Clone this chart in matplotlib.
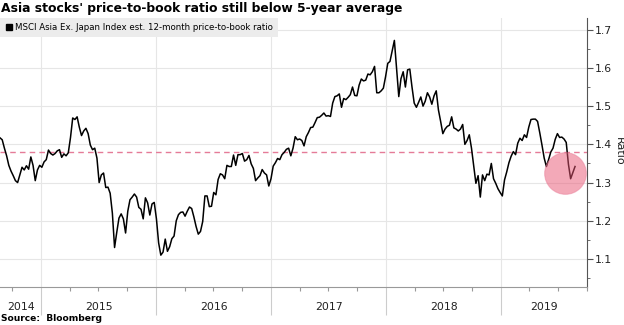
import matplotlib
matplotlib.use("Agg")
import matplotlib.pyplot as plt
import matplotlib.dates as mdates
from matplotlib.lines import Line2D
import pandas as pd

# weekly 12-month forward price-to-book ratio, MSCI Asia ex-Japan
start = "2014-08-23"
ratio = [
    1.417, 1.412, 1.390, 1.370, 1.345, 1.330, 1.318, 1.305, 1.300, 1.320,
    1.340, 1.333, 1.344, 1.335, 1.367, 1.345, 1.305, 1.333, 1.345, 1.340,
    1.354, 1.360, 1.385, 1.376, 1.372, 1.376, 1.383, 1.386, 1.366, 1.375,
    1.370, 1.378, 1.418, 1.469, 1.465, 1.472, 1.445, 1.423, 1.435, 1.442,
    1.428, 1.398, 1.386, 1.390, 1.364, 1.300, 1.320, 1.325, 1.287, 1.288,
    1.272, 1.220, 1.130, 1.170, 1.207, 1.218, 1.205, 1.168, 1.225, 1.255,
    1.262, 1.270, 1.262, 1.235, 1.230, 1.205, 1.260, 1.247, 1.215, 1.244,
    1.248, 1.205, 1.142, 1.110, 1.118, 1.152, 1.120, 1.132, 1.153, 1.160,
    1.200, 1.216, 1.222, 1.223, 1.212, 1.225, 1.236, 1.232, 1.210, 1.185,
    1.165, 1.172, 1.198, 1.265, 1.265, 1.237, 1.238, 1.274, 1.268, 1.308,
    1.323, 1.320, 1.310, 1.345, 1.342, 1.342, 1.372, 1.345, 1.373, 1.373,
    1.376, 1.356, 1.360, 1.371, 1.349, 1.337, 1.305, 1.312, 1.318, 1.334,
    1.325, 1.320, 1.291, 1.310, 1.343, 1.352, 1.363, 1.360, 1.373, 1.379,
    1.387, 1.390, 1.370, 1.390, 1.420, 1.412, 1.414, 1.410, 1.396, 1.420,
    1.431, 1.444, 1.445, 1.457, 1.470, 1.471, 1.476, 1.482, 1.474, 1.475,
    1.473, 1.508, 1.525, 1.527, 1.532, 1.497, 1.520, 1.517, 1.523, 1.530,
    1.550, 1.528, 1.527, 1.555, 1.571, 1.566, 1.568, 1.584, 1.582, 1.590,
    1.604, 1.535, 1.535, 1.540, 1.547, 1.577, 1.612, 1.617, 1.645, 1.672,
    1.600, 1.525, 1.572, 1.590, 1.550, 1.595, 1.597, 1.550, 1.508, 1.497,
    1.510, 1.524, 1.500, 1.513, 1.535, 1.524, 1.505, 1.527, 1.540, 1.490,
    1.460, 1.428, 1.440, 1.447, 1.450, 1.472, 1.443, 1.440, 1.435, 1.440,
    1.452, 1.400, 1.410, 1.425, 1.390, 1.345, 1.298, 1.318, 1.262, 1.320,
    1.305, 1.322, 1.320, 1.350, 1.310, 1.298, 1.284, 1.274, 1.265, 1.307,
    1.328, 1.352, 1.369, 1.381, 1.373, 1.403, 1.416, 1.410, 1.425, 1.418,
    1.445, 1.465, 1.466, 1.466, 1.460, 1.430, 1.398, 1.364, 1.342, 1.360,
    1.380, 1.390, 1.413, 1.428, 1.418, 1.419, 1.414, 1.405, 1.348, 1.310,
    1.326, 1.342,
]
avg_5y = 1.38
years = [2014, 2015, 2016, 2017, 2018, 2019]
highlight_date = "2019-07-24"
highlight_value = 1.325

dates = pd.date_range(start, periods=len(ratio), freq="7D")
x_left = pd.Timestamp(start)
x_right = pd.Timestamp("2019-10-01")

fig = plt.figure(figsize=(6.24, 3.25), dpi=100)
ax = fig.add_axes([0.0, 0.117, 0.9407, 0.828])

ax.plot(dates, ratio, color="black", lw=1.1, zorder=3)
ax.axhline(avg_5y, color="#e57b98", lw=1, dashes=(4, 3), zorder=2)
ax.scatter([pd.Timestamp(highlight_date)], [highlight_value], s=900,
           color="#e95573", alpha=0.5, edgecolor="#e9809a", lw=0.8, zorder=4)

ax.set_xlim(x_left, x_right)
ax.set_ylim(1.0267, 1.731)

# right-hand ratio axis
ax.yaxis.tick_right()
ax.set_yticks([1.1, 1.2, 1.3, 1.4, 1.5, 1.6, 1.7])
ax.set_yticks([1.05, 1.15, 1.25, 1.35, 1.45, 1.55, 1.65], minor=True)
ax.tick_params(axis="y", which="major", length=4, color="#555555",
               labelsize=7.8, labelcolor="#222222", pad=1.5)
ax.tick_params(axis="y", which="minor", length=2, color="#555555")
fig.text(0.991, 0.535, "Ratio", rotation=270, ha="center", va="center",
         fontsize=8, color="#222222")

# years on the bottom: long separators, quarterly small ticks
ax.xaxis.set_major_locator(mdates.YearLocator())
ax.xaxis.set_minor_locator(mdates.MonthLocator(bymonth=[4, 7, 10]))
ax.xaxis.set_major_formatter(plt.NullFormatter())
ax.tick_params(axis="x", which="major", length=20, color="#cccccc", width=0.8)
ax.tick_params(axis="x", which="minor", length=3, color="#999999", width=0.8)
for y in years:
    lo = max(pd.Timestamp(f"{y}-01-01"), x_left)
    hi = min(pd.Timestamp(f"{y + 1}-01-01"), x_right)
    mid = lo + (hi - lo) / 2
    ax.text(mid, -0.075, str(y), transform=ax.get_xaxis_transform(),
            ha="center", va="center", fontsize=7.8, color="#222222")

ax.grid(True, which="major", color="#e6e6e6", lw=0.8, zorder=0)
ax.set_axisbelow(True)

for side in ["left", "top"]:
    ax.spines[side].set_visible(False)
ax.spines["right"].set_color("#555555")
ax.spines["bottom"].set_color("#999999")

handle = Line2D([], [], marker="s", ls="none", color="black", markersize=4.5)
leg = ax.legend([handle], ["MSCI Asia Ex. Japan Index est. 12-month price-to-book ratio"],
                loc="upper left", bbox_to_anchor=(0, 1), borderaxespad=0,
                fontsize=6.2, frameon=True, fancybox=False, handlelength=0.8,
                handletextpad=0.3, borderpad=0.6)
leg.get_frame().set_facecolor("#ececec")
leg.get_frame().set_edgecolor("none")
leg.get_frame().set_alpha(1)

fig.text(0.002, 0.995, "Asia stocks' price-to-book ratio still below 5-year average",
         ha="left", va="top", fontsize=8.9, fontweight="bold")
fig.text(0.002, 0.005, "Source:  Bloomberg", ha="left", va="bottom",
         fontsize=6.6, fontweight="bold")

fig.savefig("out.png", dpi=100)
